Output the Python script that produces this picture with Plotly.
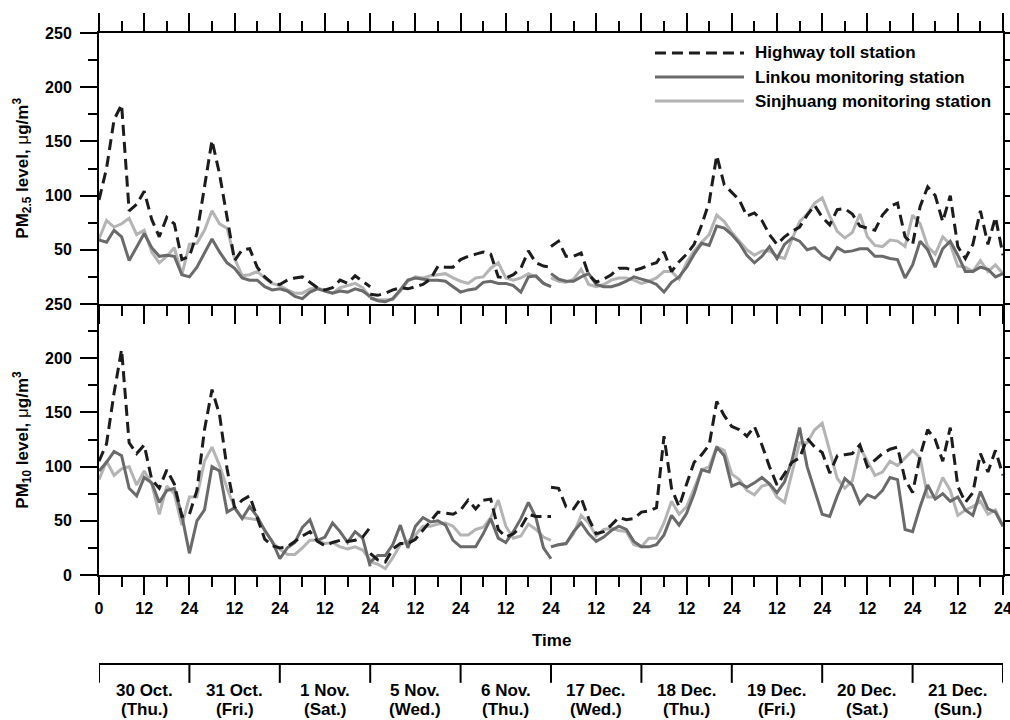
import plotly.graph_objects as go

# ---------------- data (hours from start of the 10 sampled days) ----------------
hours_a = list(range(0, 73, 2))      # 30 Oct - 1 Nov
hours_b = list(range(72, 121, 2))    # 5 Nov - 6 Nov
hours_c = list(range(120, 241, 2))   # 17 Dec - 21 Dec

# PM2.5 (ug/m3)
hw25_a = [96, 125, 170, 184, 86, 92, 104, 78, 62, 80, 74, 41, 44, 65, 108, 151, 120, 80, 40, 50,
          51, 34, 25, 19, 18, 22, 24, 25, 20, 15, 13, 15, 22, 19, 26, 21, 16]
hw25_b = [9, 8, 10, 13, 15, 14, 16, 18, 23, 35, 34, 34, 41, 44, 46, 48, 46, 25, 24, 27, 33, 49, 38, 35, 34]
hw25_c = [53, 58, 44, 44, 47, 27, 20, 23, 27, 33, 33, 31, 33, 36, 38, 48, 30, 39, 46, 55,
          73, 94, 137, 110, 103, 96, 81, 84, 77, 64, 55, 62, 67, 71, 82, 91, 80, 73, 87, 88,
          83, 72, 70, 68, 82, 90, 93, 62, 55, 90, 108, 100, 76, 100, 53, 42, 55, 86, 55, 80, 45]

lk25_a = [59, 57, 68, 62, 40, 52, 65, 52, 44, 45, 44, 27, 25, 34, 47, 60, 48, 38, 33, 24,
          22, 22, 16, 13, 14, 12, 7, 5, 11, 14, 12, 10, 12, 11, 14, 12, 7]
lk25_b = [6, 3, 2, 5, 13, 22, 24, 23, 22, 22, 21, 16, 11, 13, 14, 20, 21, 19, 19, 17, 11, 25, 26, 19, 16]
lk25_c = [28, 23, 21, 21, 25, 28, 18, 16, 16, 18, 21, 25, 23, 21, 18, 11, 20, 25, 34, 46,
          56, 54, 72, 70, 64, 56, 45, 38, 44, 53, 42, 55, 61, 58, 50, 52, 45, 41, 52, 48,
          49, 51, 51, 44, 44, 42, 41, 24, 36, 58, 50, 34, 51, 58, 45, 30, 30, 34, 32, 25, 28]

sj25_a = [60, 77, 71, 74, 79, 64, 68, 48, 38, 44, 52, 27, 55, 56, 68, 86, 74, 70, 42, 26,
          27, 30, 24, 19, 17, 13, 10, 10, 14, 15, 12, 10, 15, 17, 19, 15, 6]
sj25_b = [5, 4, 4, 4, 12, 21, 25, 24, 26, 27, 28, 24, 21, 19, 24, 25, 33, 38, 24, 22, 24, 28, 25, 19, 16]
sj25_c = [24, 21, 20, 23, 32, 18, 16, 18, 22, 24, 24, 22, 19, 21, 24, 30, 30, 23, 38, 49,
          57, 64, 82, 76, 66, 58, 50, 45, 49, 49, 44, 42, 60, 76, 83, 93, 98, 81, 67, 61,
          66, 83, 62, 54, 53, 59, 58, 53, 82, 74, 53, 46, 62, 55, 35, 34, 30, 40, 30, 36, 28]

# PM10 (ug/m3)
hw10_a = [105, 121, 168, 208, 122, 112, 120, 88, 80, 97, 84, 54, 56, 78, 134, 171, 148, 98, 62, 69,
          73, 53, 33, 27, 25, 26, 31, 36, 40, 31, 27, 30, 32, 31, 32, 35, 44]
hw10_b = [20, 14, 12, 24, 29, 29, 33, 41, 49, 58, 57, 56, 60, 69, 61, 69, 70, 42, 35, 38, 44, 56, 54, 54, 54]
hw10_c = [81, 80, 63, 61, 71, 52, 38, 40, 46, 53, 51, 52, 58, 59, 62, 128, 80, 63, 84, 104,
          111, 120, 160, 147, 137, 134, 128, 137, 120, 100, 83, 93, 104, 108, 126, 118, 113, 94, 110, 111,
          112, 120, 100, 106, 112, 116, 118, 88, 76, 110, 134, 125, 105, 136, 82, 67, 76, 112, 95, 115, 92]

lk10_a = [96, 104, 114, 110, 80, 73, 90, 85, 67, 78, 80, 55, 20, 50, 60, 100, 96, 58, 62, 52,
          63, 54, 41, 31, 15, 25, 30, 44, 51, 32, 35, 48, 40, 30, 40, 34, 8]
lk10_b = [12, 18, 18, 28, 46, 25, 45, 53, 49, 50, 46, 32, 26, 26, 26, 38, 52, 34, 30, 40, 52, 67, 53, 25, 15]
lk10_c = [26, 28, 29, 40, 48, 38, 31, 35, 41, 45, 42, 31, 26, 26, 28, 37, 55, 46, 57, 75,
          97, 95, 118, 110, 82, 85, 81, 85, 90, 84, 76, 86, 106, 136, 100, 78, 56, 54, 73, 89,
          83, 66, 74, 71, 78, 90, 88, 42, 40, 63, 83, 70, 75, 68, 72, 60, 55, 77, 61, 58, 45]

sj10_a = [88, 105, 92, 98, 100, 83, 96, 84, 56, 82, 75, 46, 72, 72, 105, 118, 101, 80, 62, 53,
          52, 51, 42, 30, 24, 19, 19, 25, 32, 32, 29, 30, 26, 24, 26, 23, 14]
sj10_b = [12, 10, 6, 16, 28, 31, 37, 45, 45, 47, 48, 45, 37, 37, 42, 44, 53, 69, 45, 34, 36, 47, 42, 35, 32]
sj10_c = [26, 28, 29, 38, 55, 48, 36, 42, 43, 41, 40, 28, 26, 34, 34, 48, 68, 56, 63, 80,
          97, 100, 118, 115, 93, 88, 78, 74, 82, 84, 72, 67, 95, 122, 122, 134, 140, 115, 89, 80,
          87, 118, 105, 92, 95, 105, 101, 108, 115, 108, 72, 72, 90, 78, 55, 60, 63, 68, 56, 60, 45]

station_names = ["Highway toll station", "Linkou monitoring station", "Sinjhuang monitoring station"]

x_tick_vals = list(range(0, 241, 12))
x_tick_text = ["0", "12", "24", "12", "24", "12", "24", "12", "24", "12", "24",
               "12", "24", "12", "24", "12", "24", "12", "24", "12", "24"]
x_minor_vals = list(range(6, 240, 12))
y_tick_vals_top = [50, 100, 150, 200, 250]
y_tick_text_top = ["50", "100", "150", "200", "250"]
y_minor_vals_top = [0, 25, 75, 125, 175, 225]
y_tick_vals_bot = [0, 50, 100, 150, 200, 250]
y_tick_text_bot = ["0", "50", "100", "150", "200", "250"]
y_minor_vals_bot = [25, 75, 125, 175, 225]

day_boundaries = list(range(0, 241, 24))
day_centers = list(range(12, 240, 24))
day_dates = ["30 Oct.", "31 Oct.", "1 Nov.", "5 Nov.", "6 Nov.",
             "17 Dec.", "18 Dec.", "19 Dec.", "20 Dec.", "21 Dec."]
day_weekdays = ["(Thu.)", "(Fri.)", "(Sat.)", "(Wed.)", "(Thu.)",
                "(Wed.)", "(Thu.)", "(Fri.)", "(Sat.)", "(Sun.)"]

# ---------------- helpers ----------------
def join(parts):
    out = []
    for i, p in enumerate(parts):
        if i:
            out.append(None)
        out.extend(p)
    return out

x_all = join([hours_a, hours_b, hours_c])

FONT = "Liberation Sans, Arial, Helvetica, sans-serif"
COL_HW = "#1c1c1c"
COL_LK = "#6a6a6a"
COL_SJ = "#b4b4b4"
DASH = "11px,6px"
LW = 3

styles = [
    dict(color=COL_SJ, width=LW, dash="solid"),
    dict(color=COL_LK, width=LW, dash="solid"),
    dict(color=COL_HW, width=LW, dash=DASH),
]

fig = go.Figure()
panels = [
    ("x", "y", [join([sj25_a, sj25_b, sj25_c]), join([lk25_a, lk25_b, lk25_c]), join([hw25_a, hw25_b, hw25_c])]),
    ("x2", "y2", [join([sj10_a, sj10_b, sj10_c]), join([lk10_a, lk10_b, lk10_c]), join([hw10_a, hw10_b, hw10_c])]),
]
names_order = [station_names[2], station_names[1], station_names[0]]
for xa, ya, series in panels:
    for name, yv, st in zip(names_order, series, styles):
        fig.add_trace(go.Scatter(x=x_all, y=yv, mode="lines", name=name, xaxis=xa, yaxis=ya,
                                 line=st, connectgaps=False, showlegend=False, hoverinfo="skip"))

tickfont = dict(family=FONT, size=16, color="black", weight="bold")
axis_common = dict(showline=True, linecolor="black", linewidth=2, ticks="outside",
                   tickcolor="black", tickwidth=2, showgrid=False, zeroline=False,
                   tickfont=tickfont, automargin=False)
xminor = dict(tickmode="array", tickvals=x_minor_vals, ticks="outside", ticklen=10,
              tickwidth=2, tickcolor="black", showgrid=False)

fig.update_layout(
    template="none",
    width=1010, height=720,
    margin=dict(l=99, r=7, t=33, b=145, autoexpand=False),
    plot_bgcolor="white", paper_bgcolor="white",
    showlegend=False,
    font=dict(family=FONT, size=17, color="black", weight="bold"),
    xaxis=dict(**axis_common, anchor="y", domain=[0, 1], range=[0, 240], tickmode="array",
               tickvals=x_tick_vals, showticklabels=False, ticklen=18, mirror="ticks", minor=xminor),
    xaxis2=dict(**axis_common, anchor="y2", domain=[0, 1], range=[0, 240], tickmode="array",
                tickvals=x_tick_vals, ticktext=x_tick_text, ticklen=18, mirror=False, minor=xminor,
                ticklabeloverflow="allow"),
    yaxis=dict(**axis_common, anchor="x", domain=[0.5, 1], range=[0, 250], tickmode="array",
               tickvals=y_tick_vals_top, ticktext=y_tick_text_top, ticklen=17, mirror="ticks",
               ticklabelstandoff=5,
               minor=dict(tickmode="array", tickvals=y_minor_vals_top, ticks="outside", ticklen=9,
                          tickwidth=2, tickcolor="black", showgrid=False)),
    yaxis2=dict(**axis_common, anchor="x2", domain=[0, 0.5], range=[0, 250], tickmode="array",
                tickvals=y_tick_vals_bot, ticktext=y_tick_text_bot, ticklen=17, mirror="ticks",
                ticklabelstandoff=5,
                minor=dict(tickmode="array", tickvals=y_minor_vals_bot, ticks="outside", ticklen=9,
                           tickwidth=2, tickcolor="black", showgrid=False)),
)

# ---------------- axis titles ----------------
mu = '<span style="font-weight:normal">\u03bc</span>'
title_font = dict(family=FONT, size=17, color="black", weight="bold")
fig.add_annotation(text="PM<sub>2.5</sub> level, " + mu + "g/m<sup>3</sup>", textangle=-90,
                   xref="paper", yref="paper", x=-0.085, y=0.75, xanchor="center", yanchor="middle",
                   showarrow=False, font=title_font)
fig.add_annotation(text="PM<sub>10</sub> level, " + mu + "g/m<sup>3</sup>", textangle=-90,
                   xref="paper", yref="paper", x=-0.085, y=0.25, xanchor="center", yanchor="middle",
                   showarrow=False, font=title_font)
fig.add_annotation(text="Time", xref="x2", yref="paper", x=120, y=-0.12, xanchor="center",
                   yanchor="middle", showarrow=False, font=title_font)

# ---------------- day bar ----------------
Y_BAR = -0.164
Y_TICK = -0.199
fig.add_shape(type="line", xref="x2", yref="paper", x0=0, x1=240, y0=Y_BAR, y1=Y_BAR,
              line=dict(color="black", width=2))
for b in day_boundaries:
    fig.add_shape(type="line", xref="x2", yref="paper", x0=b, x1=b, y0=Y_BAR, y1=Y_TICK,
                  line=dict(color="black", width=2))
for c, d, w in zip(day_centers, day_dates, day_weekdays):
    fig.add_annotation(text=d, xref="x2", yref="paper", x=c, y=-0.2140, xanchor="center",
                       yanchor="middle", showarrow=False, font=title_font)
    fig.add_annotation(text=w, xref="x2", yref="paper", x=c, y=-0.2485, xanchor="center",
                       yanchor="middle", showarrow=False, font=title_font)

# ---------------- legend (drawn in top panel) ----------------
leg_y = [0.9631, 0.9188, 0.8745]
leg_styles = [dict(color=COL_HW, width=LW, dash=DASH), dict(color=COL_LK, width=LW),
              dict(color=COL_SJ, width=LW)]
for yy, nm, st in zip(leg_y, station_names, leg_styles):
    fig.add_shape(type="line", xref="paper", yref="paper", x0=0.615, x1=0.7135, y0=yy, y1=yy, line=st)
    fig.add_annotation(text=nm, xref="paper", yref="paper", x=0.7235, y=yy, xanchor="left",
                       yanchor="middle", showarrow=False, font=title_font)

fig.write_html("out.html")
